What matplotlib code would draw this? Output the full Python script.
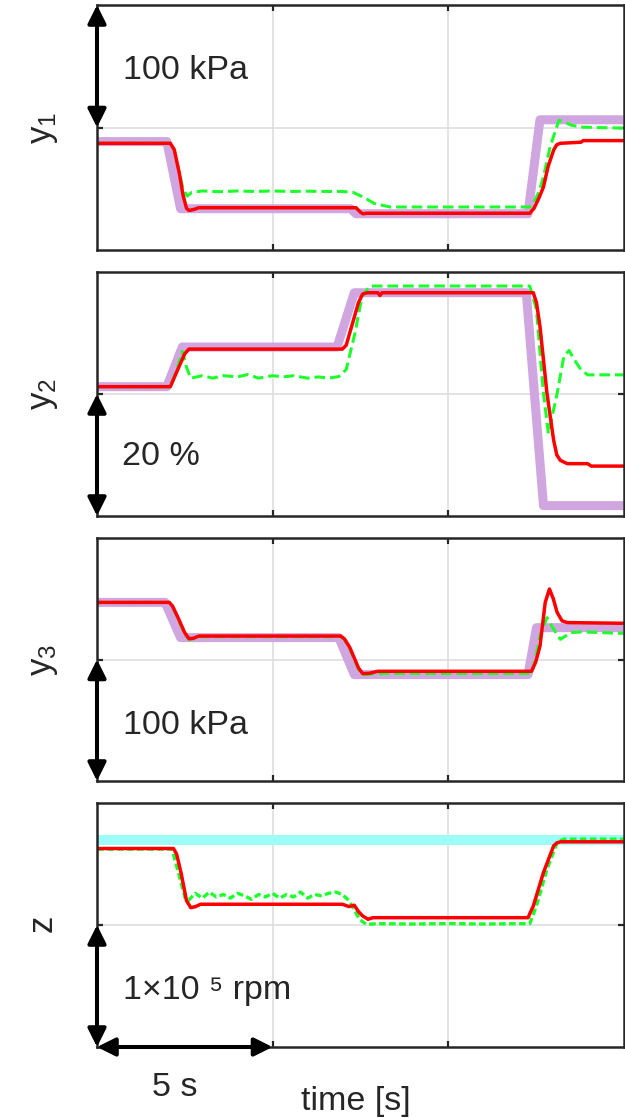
import matplotlib
matplotlib.use("Agg")
import matplotlib.pyplot as plt
from matplotlib.patches import FancyArrowPatch

plt.rcParams['font.family'] = ['Liberation Sans', 'DejaVu Sans']
plt.rcParams['mathtext.fontset'] = 'custom'
plt.rcParams['mathtext.rm'] = 'Liberation Sans'
plt.rcParams['mathtext.it'] = 'Liberation Sans'

# ---------------- data (time in s, values in panel scale units) ----------------
# panel 1: y1 (1 unit = 100 kPa)
y1_ref_t = [0, 1.99, 2.38, 7.23, 7.38, 12.28, 12.62, 15]
y1_ref = [0.885, 0.885, 0.337, 0.337, 0.296, 0.296, 1.063, 1.063]
y1_red_t = [0, 2.09, 2.2, 2.35, 2.45, 2.55, 2.62, 2.75, 2.9, 7.38, 7.5, 7.57, 7.7, 12.33,
            12.45, 12.6, 12.72, 12.85, 13.01, 13.1, 13.2, 13.79, 13.85, 15]
y1_red = [0.871, 0.871, 0.82, 0.62, 0.45, 0.34, 0.323, 0.33, 0.345, 0.345, 0.31, 0.296,
          0.30, 0.30, 0.34, 0.43, 0.515, 0.68, 0.816, 0.86, 0.871, 0.880, 0.893, 0.893]
y1_grn_t = [0, 2.09, 2.2, 2.35, 2.45, 2.57, 2.7, 3.0, 3.5, 4.0, 4.5, 5.0, 5.5, 6.0, 6.5,
            6.99, 7.3, 7.6, 7.9, 8.35, 12.33, 12.45, 12.6, 12.72, 12.91, 13.16, 13.3, 13.5,
            13.79, 15]
y1_grn = [0.871, 0.871, 0.82, 0.62, 0.50, 0.44, 0.47, 0.482, 0.476, 0.482, 0.478, 0.482,
          0.478, 0.480, 0.478, 0.478, 0.47, 0.43, 0.38, 0.351, 0.351, 0.39, 0.48, 0.597,
          0.844, 1.058, 1.049, 1.02, 1.003, 0.995]

# panel 2: y2 (1 unit = 20 %)
y2_ref_t = [0, 1.99, 2.43, 6.84, 7.33, 12.23, 12.72, 15]
y2_ref = [1.060, 1.060, 1.385, 1.385, 1.830, 1.830, 0.085, 0.085]
y2_red_t = [0, 2.09, 2.3, 2.5, 2.62, 2.8, 6.99, 7.1, 7.3, 7.45, 7.57, 7.7, 8.0, 8.06,
            8.12, 12.43, 12.52, 12.62, 12.82, 13.01, 13.1, 13.2, 13.4, 13.98, 14.08, 15]
y2_red = [1.060, 1.060, 1.20, 1.33, 1.368, 1.368, 1.368, 1.40, 1.60, 1.75, 1.82, 1.830,
          1.830, 1.808, 1.830, 1.830, 1.75, 1.555, 1.005, 0.621, 0.50, 0.456, 0.429,
          0.429, 0.409, 0.409]
y2_grn_t = [0, 2.09, 2.3, 2.43, 2.55, 2.67, 3.0, 3.3, 3.6, 4.0, 4.3, 4.6, 5.0, 5.3, 5.6,
            6.0, 6.3, 6.6, 6.89, 7.1, 7.35, 7.55, 7.77, 12.33, 12.52, 12.72, 12.86, 13.11,
            13.3, 13.45, 13.6, 13.79, 13.98, 15]
y2_grn = [1.060, 1.060, 1.22, 1.349, 1.22, 1.129, 1.15, 1.13, 1.15, 1.14, 1.16, 1.13,
          1.15, 1.14, 1.15, 1.13, 1.14, 1.13, 1.143, 1.20, 1.50, 1.80, 1.885, 1.885,
          1.692, 1.005, 0.676, 1.005, 1.308, 1.357, 1.28, 1.198, 1.157, 1.157]

# panel 3: y3 (1 unit = 100 kPa)
y3_ref_t = [0, 1.94, 2.38, 6.89, 7.33, 12.28, 12.52, 15]
y3_ref = [1.470, 1.470, 1.180, 1.180, 0.876, 0.876, 1.262, 1.262]
y3_red_t = [0, 2.06, 2.15, 2.3, 2.5, 2.62, 2.75, 2.9, 6.94, 7.05, 7.2, 7.45, 7.57, 7.75,
            8.0, 12.38, 12.5, 12.62, 12.77, 12.89, 13.0, 13.11, 13.25, 13.4, 15]
y3_red = [1.470, 1.470, 1.44, 1.35, 1.22, 1.171, 1.175, 1.193, 1.193, 1.17, 1.10, 0.93,
          0.884, 0.886, 0.903, 0.903, 0.98, 1.110, 1.470, 1.580, 1.50, 1.387, 1.318,
          1.304, 1.298]
y3_grn_t = [0, 2.06, 2.15, 2.3, 2.5, 2.62, 2.75, 2.9, 6.94, 7.05, 7.2, 7.45, 7.57, 7.75,
            8.0, 12.38, 12.5, 12.62, 12.82, 13.01, 13.2, 13.5, 13.79, 15]
y3_grn = [1.470, 1.470, 1.44, 1.34, 1.21, 1.165, 1.170, 1.188, 1.188, 1.165, 1.09, 0.92,
          0.875, 0.878, 0.885, 0.885, 1.02, 1.193, 1.345, 1.249, 1.166, 1.221, 1.227,
          1.215]

# panel 4: z (1 unit = 1e5 rpm)
z_ref_t = [0, 15]
z_ref = [1.699, 1.699]
z_red_t = [0, 2.18, 2.27, 2.4, 2.55, 2.67, 2.8, 2.95, 6.99, 7.18, 7.33, 7.45, 7.57, 7.72,
           7.86, 12.28, 12.43, 12.72, 13.01, 13.1, 13.2, 15]
z_red = [1.627, 1.627, 1.58, 1.42, 1.20, 1.142, 1.15, 1.170, 1.170, 1.151, 1.162, 1.11,
         1.074, 1.047, 1.060, 1.060, 1.156, 1.430, 1.649, 1.672, 1.682, 1.682]
z_grn_t = [0, 2.14, 2.3, 2.52, 2.6, 2.8, 3.0, 3.2, 3.4, 3.6, 3.8, 4.0, 4.2, 4.4, 4.6,
           4.8, 5.0, 5.2, 5.4, 5.6, 5.8, 6.0, 6.2, 6.4, 6.6, 6.8, 6.99, 7.18, 7.48, 7.67,
           8.0, 9.0, 10.0, 11.0, 12.0, 12.33, 12.52, 12.82, 13.11, 13.3, 15]
z_grn = [1.622, 1.622, 1.45, 1.211, 1.20, 1.26, 1.22, 1.27, 1.23, 1.25, 1.22, 1.26,
         1.24, 1.21, 1.25, 1.23, 1.26, 1.22, 1.25, 1.23, 1.27, 1.22, 1.25, 1.24, 1.26,
         1.27, 1.25, 1.20, 1.047, 1.005, 1.011, 1.008, 1.012, 1.008, 1.011, 1.011, 1.156,
         1.458, 1.677, 1.704, 1.704]

panel_labels = [r'$\mathregular{y_1}$', r'$\mathregular{y_2}$', r'$\mathregular{y_3}$',
                r'$\mathregular{z}$']
scale_texts = ['100 kPa', '20 %', '100 kPa', '1×10 ⁵ rpm']

# ---------------- styling ----------------
W, H = 625, 1118
C_REF = '#d0a6e0'
C_CYAN = '#9dfcf8'
C_GRN = '#1dff2c'
C_RED = '#ff0000'
C_AX = '#262626'

fig = plt.figure(figsize=(W / 100, H / 100), dpi=100)
left, right = 97, 623.5
panels_px = [(5, 250), (272, 516), (538, 781), (803, 1047)]

axes = []
for (top, bot) in panels_px:
    ax = fig.add_axes([left / W, (H - bot) / H, (right - left) / W, (bot - top) / H])
    ax.set_xlim(0, 15)
    ax.set_ylim(0, 2)
    ax.set_xticks([5, 10])
    ax.set_yticks([1])
    ax.set_xticklabels([])
    ax.set_yticklabels([])
    ax.tick_params(direction='in', length=4, width=1.6, color=C_AX,
                   top=True, right=True, bottom=True, left=True)
    ax.grid(True, color='#dedede', linewidth=1.2)
    ax.set_axisbelow(True)
    for s in ax.spines.values():
        s.set_color(C_AX)
        s.set_linewidth(1.8)
        s.set_zorder(5)
    axes.append(ax)

series = [
    (y1_ref_t, y1_ref, y1_grn_t, y1_grn, y1_red_t, y1_red),
    (y2_ref_t, y2_ref, y2_grn_t, y2_grn, y2_red_t, y2_red),
    (y3_ref_t, y3_ref, y3_grn_t, y3_grn, y3_red_t, y3_red),
    (z_ref_t, z_ref, z_grn_t, z_grn, z_red_t, z_red),
]
for i, (ax, (rt, rv, gt, gv, dt, dv)) in enumerate(zip(axes, series)):
    if i < 3:
        ax.plot(rt, rv, color=C_REF, lw=6.5, solid_joinstyle='round', solid_capstyle='butt')
        ax.plot(gt, gv, color=C_GRN, lw=2.2, dashes=(3.5, 1.6))
    else:
        ax.plot(rt, rv, color=C_CYAN, lw=7.2, solid_capstyle='butt')
        ax.plot(gt, gv, color=C_GRN, lw=2.4, dashes=(2, 1))
    ax.plot(dt, dv, color=C_RED, lw=2.5, solid_joinstyle='round')

# scale arrows
def add_arrow(ax, p0, p1):
    a = FancyArrowPatch(p0, p1, arrowstyle='<|-|>,head_length=11,head_width=5.5',
                        mutation_scale=1, color='black', lw=2.9, shrinkA=0, shrinkB=0,
                        clip_on=False, zorder=10)
    ax.add_patch(a)

add_arrow(axes[0], (0, 2), (0, 1))
for ax in axes[1:]:
    add_arrow(ax, (0, 1), (0, 0))
add_arrow(axes[3], (0, 0), (5, 0))

# scale texts
text_pos = [(0.049, 0.696), (0.047, 0.208), (0.049, 0.193), (0.049, 0.195)]
for ax, txt, (x, y) in zip(axes, scale_texts, text_pos):
    ax.text(x, y, txt, transform=ax.transAxes, fontsize=24.5, color=C_AX,
            ha='left', va='baseline')

# panel labels
for (top, bot), lab in zip(panels_px, panel_labels):
    fig.text(27 / W, 1 - (top + bot) / 2 / H, lab, rotation=90, fontsize=25,
             color=C_AX, ha='left', va='center')

fig.text(152.5 / W, 1 - 1096 / H, '5 s', fontsize=24.5, color=C_AX, ha='left', va='baseline')
fig.text(356 / W, 1 - 1110 / H, 'time [s]', fontsize=24.5, color=C_AX, ha='center',
         va='baseline')

fig.savefig('out.png', dpi=100, facecolor='white')
